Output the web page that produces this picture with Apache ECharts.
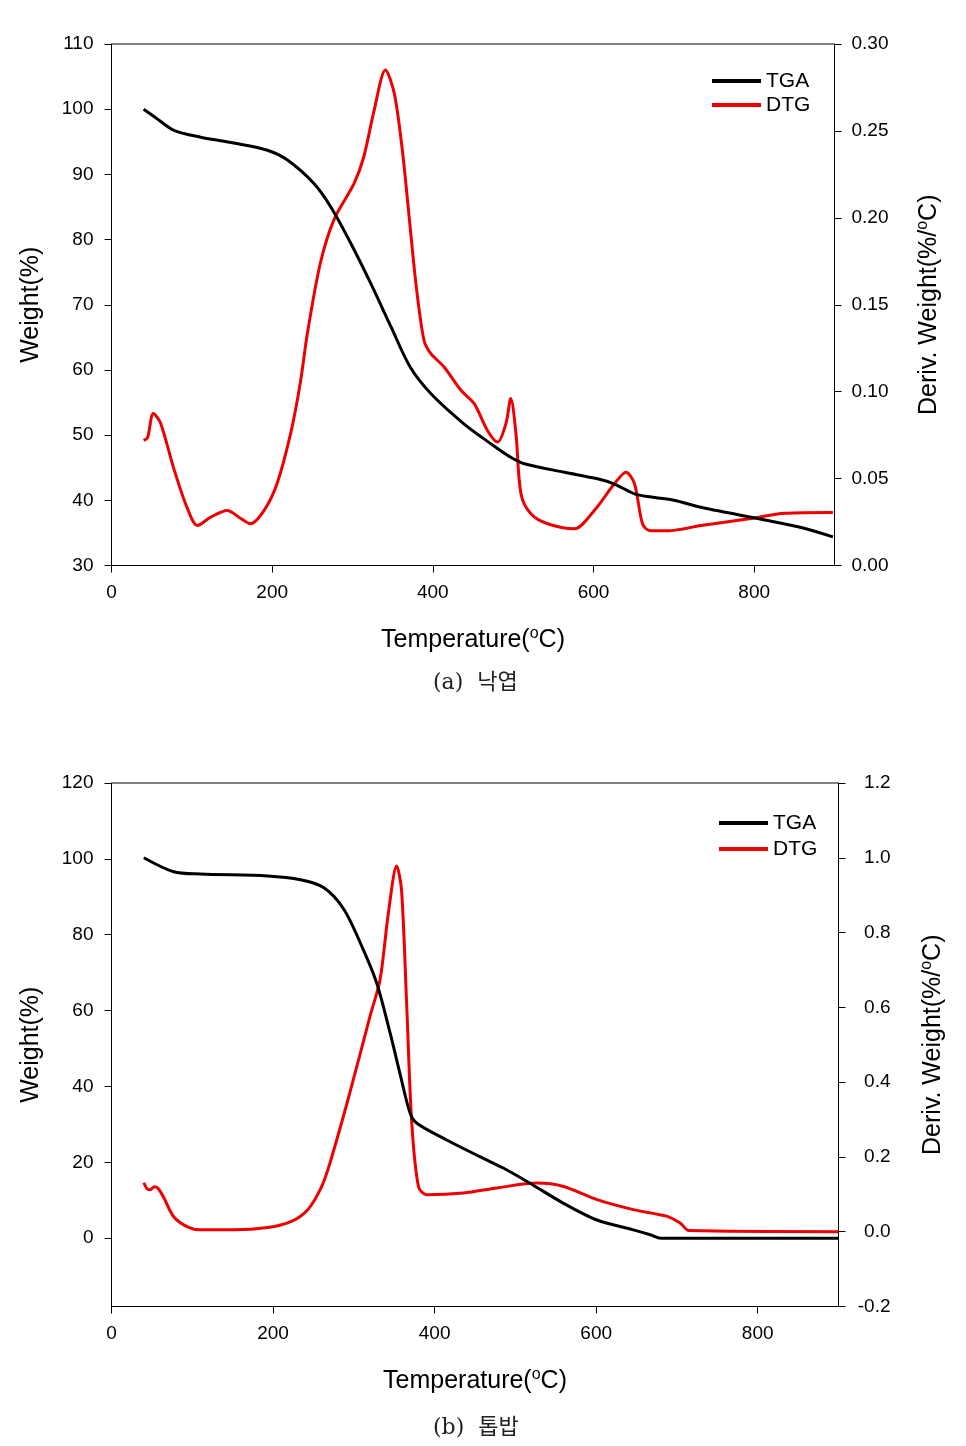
<!DOCTYPE html>
<html>
<head>
<meta charset="utf-8">
<script src="https://cdn.jsdelivr.net/npm/echarts@6/dist/echarts.min.js"></script>
<style>
html,body{margin:0;padding:0;background:#fff;}
#c{width:966px;height:1446px;}
</style>
</head>
<body>
<div id="c"></div>
<script>
// ---------- (a) 낙엽 ----------
const tempA_TGA = [40, 55, 77, 111, 152, 194, 219, 252, 273, 298, 323, 348, 372, 398, 439, 472, 497, 514, 564, 605, 626, 651, 672, 700, 735, 817, 860, 898];
const weightA   = [100, 98.7, 96.8, 95.7, 94.8, 93.7, 92.2, 88.6, 85.0, 79.4, 73.2, 66.6, 60.4, 56.3, 51.7, 48.7, 46.6, 45.6, 44.3, 43.3, 42.5, 41.0, 40.5, 40.0, 38.9, 36.9, 35.8, 34.4];

const tempA_DTG = [40, 45, 52, 61, 77, 94, 107, 123, 144, 161, 173, 190, 206, 223, 235, 244, 260, 277, 302, 314, 327, 341, 352, 362, 370.5, 379, 389, 397.5, 414, 435, 451.5, 468, 480.6, 491, 497, 503.5, 509.7, 522, 543, 576, 601, 626, 640.5, 651, 661, 669.5, 693, 734, 796, 838, 898];
const derivA    = [0.072, 0.0737, 0.0875, 0.082, 0.0566, 0.0334, 0.023, 0.0277, 0.0317, 0.027, 0.024, 0.0317, 0.047, 0.076, 0.105, 0.134, 0.174, 0.199, 0.2198, 0.235, 0.262, 0.285, 0.2716, 0.239, 0.2006, 0.162, 0.1296, 0.1219, 0.1142, 0.1008, 0.0931, 0.0777, 0.071, 0.0816, 0.096, 0.0758, 0.0413, 0.0298, 0.024, 0.0211, 0.0317, 0.047, 0.0537, 0.047, 0.024, 0.0202, 0.020, 0.023, 0.027, 0.030, 0.0305];

// ---------- (b) 톱밥 ----------
const tempB_TGA = [40, 77, 110, 193, 234, 263, 288, 311.8, 328.4, 344.9, 357, 369.6, 378, 415, 456, 485, 518, 559.6, 601, 646, 667, 680, 900];
const weightB   = [100.3, 96.6, 96.0, 95.5, 94.5, 92.4, 86.6, 76.0, 67.2, 54.1, 43.5, 33.0, 30.3, 25.9, 21.5, 18.5, 14.5, 9.2, 4.8, 2.2, 0.9, 0, 0];

const tempB_DTG = [40, 44, 48, 53, 58, 65, 77, 94, 110, 152, 193, 222, 243, 260, 270.5, 295, 320, 332.5, 342.8, 353, 359, 365.5, 371.7, 380, 390, 435.7, 477, 526.6, 559.6, 601, 646, 688, 704, 715, 900];
const derivB    = [0.131, 0.115, 0.112, 0.12, 0.115, 0.09, 0.04, 0.013, 0.005, 0.005, 0.011, 0.027, 0.059, 0.12, 0.184, 0.371, 0.576, 0.6745, 0.853, 0.978, 0.915, 0.603, 0.291, 0.121, 0.099, 0.1035, 0.117, 0.130, 0.121, 0.0857, 0.059, 0.041, 0.023, 0.003, 0];

const xTicks = [0, 200, 400, 600, 800];
const leftTicksB = [0, 20, 40, 60, 80, 100, 120];
const legendNames = ['TGA', 'DTG'];
const captionA = '(a)  낙엽';
const captionB = '(b)  톱밥';

const zip = (xs, ys) => xs.map((x, i) => [x, ys[i]]);

const FONT = '"Liberation Sans", Arial, sans-serif';
const RED = '#ee0000';
const lblStyle = { color: '#000', fontSize: 19, fontFamily: FONT };
const nameStyle = {
  color: '#000', fontSize: 25, fontFamily: FONT,
  rich: { sup: { fontSize: 16, fontFamily: FONT, color: '#000', verticalAlign: 'top', padding: [0, 0, 14, 0] } }
};
const axLine = { show: true, onZero: false, lineStyle: { color: '#000', width: 1 } };
const axTick = { show: true, inside: false, length: 7, lineStyle: { color: '#000', width: 1 } };

function xAxisCfg(gi) {
  return {
    type: 'value', gridIndex: gi, min: 0, max: 900,
    name: 'Temperature({sup|o}C)', nameLocation: 'middle', nameGap: 60,
    nameTextStyle: nameStyle,
    axisLine: axLine,
    axisTick: Object.assign({}, axTick, { customValues: xTicks }),
    axisLabel: Object.assign({}, lblStyle, { margin: 18, customValues: xTicks }),
    splitLine: { show: false }
  };
}

const chart = echarts.init(document.getElementById('c'), null, { renderer: 'canvas' });
chart.setOption({
  backgroundColor: '#fff',
  animation: false,
  grid: [
    { left: 111.5, top: 44, width: 723, height: 521.5, show: true, borderColor: '#000', borderWidth: 1, containLabel: false },
    { left: 111.5, top: 783, width: 727, height: 523.5, show: true, borderColor: '#000', borderWidth: 1, containLabel: false }
  ],
  legend: [
    { data: legendNames, orient: 'vertical', left: 707, top: 65, itemWidth: 49, itemHeight: 4, itemGap: 2, icon: 'rect',
      textStyle: { color: '#000', fontSize: 21, fontFamily: FONT, lineHeight: 22 }, selectedMode: false },
    { data: legendNames, orient: 'vertical', left: 714, top: 807, itemWidth: 49, itemHeight: 4, itemGap: 4, icon: 'rect',
      textStyle: { color: '#000', fontSize: 21, fontFamily: FONT, lineHeight: 22 }, selectedMode: false }
  ],
  xAxis: [xAxisCfg(0), xAxisCfg(1)],
  yAxis: [
    { type: 'value', gridIndex: 0, position: 'left', min: 30, max: 110, interval: 10,
      name: 'Weight(%)', nameLocation: 'middle', nameRotate: 90, nameGap: 68, nameTextStyle: nameStyle,
      axisLine: axLine, axisTick: axTick, axisLabel: Object.assign({}, lblStyle, { margin: 18 }), splitLine: { show: false } },
    { type: 'value', gridIndex: 0, position: 'right', min: 0, max: 0.30, interval: 0.05,
      name: 'Deriv. Weight(%/{sup|o}C)', nameLocation: 'middle', nameRotate: 90, nameGap: 80, nameTextStyle: nameStyle,
      axisLine: axLine, axisTick: axTick,
      axisLabel: Object.assign({}, lblStyle, { margin: 17, formatter: v => v.toFixed(2) }), splitLine: { show: false } },
    { type: 'value', gridIndex: 1, position: 'left', min: -18, max: 120,
      name: 'Weight(%)', nameLocation: 'middle', nameRotate: 90, nameGap: 68, nameTextStyle: nameStyle,
      axisLine: axLine,
      axisTick: Object.assign({}, axTick, { customValues: leftTicksB }),
      axisLabel: Object.assign({}, lblStyle, { margin: 18, customValues: leftTicksB }), splitLine: { show: false } },
    { type: 'value', gridIndex: 1, position: 'right', min: -0.2, max: 1.2, interval: 0.2,
      name: 'Deriv. Weight(%/{sup|o}C)', nameLocation: 'middle', nameRotate: 90, nameGap: 80, nameTextStyle: nameStyle,
      axisLine: axLine, axisTick: axTick,
      axisLabel: Object.assign({}, lblStyle, { margin: 52, align: 'right', formatter: v => (Math.abs(v) < 1e-9 ? 0 : v).toFixed(1) }), splitLine: { show: false } }
  ],
  series: [
    { name: 'TGA', type: 'line', xAxisIndex: 0, yAxisIndex: 0, data: zip(tempA_TGA, weightA), showSymbol: false, symbol: 'none',
      smooth: 0.3, lineStyle: { color: '#000', width: 3 }, itemStyle: { color: '#000' }, z: 3 },
    { name: 'DTG', type: 'line', xAxisIndex: 0, yAxisIndex: 1, data: zip(tempA_DTG, derivA), showSymbol: false, symbol: 'none',
      smooth: 0.3, lineStyle: { color: RED, width: 3 }, itemStyle: { color: RED }, z: 2 },
    { name: 'TGA', type: 'line', xAxisIndex: 1, yAxisIndex: 2, data: zip(tempB_TGA, weightB), showSymbol: false, symbol: 'none',
      smooth: 0.3, lineStyle: { color: '#000', width: 3 }, itemStyle: { color: '#000' }, z: 3 },
    { name: 'DTG', type: 'line', xAxisIndex: 1, yAxisIndex: 3, data: zip(tempB_DTG, derivB), showSymbol: false, symbol: 'none',
      smooth: 0.3, lineStyle: { color: RED, width: 3 }, itemStyle: { color: RED }, z: 2 }
  ],
  graphic: [
    { type: 'text', left: 433, top: 672, style: { text: captionA, fill: '#222', font: '22px "DejaVu Serif", "Noto Sans CJK KR", serif' } },
    { type: 'text', left: 433, top: 1417, style: { text: captionB, fill: '#222', font: '22px "DejaVu Serif", "Noto Sans CJK KR", serif' } }
  ]
});
</script>
</body>
</html>
